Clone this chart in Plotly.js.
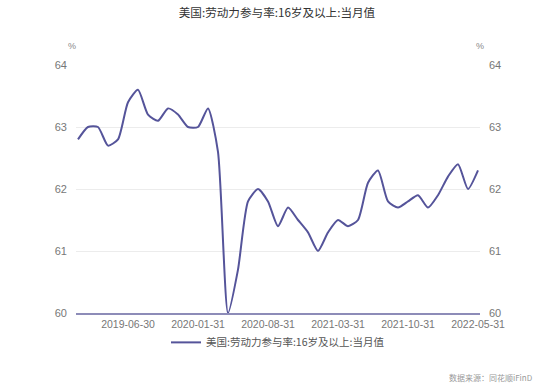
<!DOCTYPE html>
<html>
<head>
<meta charset="utf-8">
<script src="https://cdn.plot.ly/plotly-3.0.1.min.js"></script>
<style>html,body{margin:0;padding:0;background:#fff;}#chart{width:554px;height:387px;}</style>
</head>
<body>
<div id="chart"></div>
<script>
const dates = [
  "2019-01-31","2019-02-28","2019-03-31","2019-04-30","2019-05-31","2019-06-30",
  "2019-07-31","2019-08-31","2019-09-30","2019-10-31","2019-11-30","2019-12-31",
  "2020-01-31","2020-02-29","2020-03-31","2020-04-30","2020-05-31","2020-06-30",
  "2020-07-31","2020-08-31","2020-09-30","2020-10-31","2020-11-30","2020-12-31",
  "2021-01-31","2021-02-28","2021-03-31","2021-04-30","2021-05-31","2021-06-30",
  "2021-07-31","2021-08-31","2021-09-30","2021-10-31","2021-11-30","2021-12-31",
  "2022-01-31","2022-02-28","2022-03-31","2022-04-30","2022-05-31"
];
const participation = [
  62.8, 63.0, 63.0, 62.7, 62.8, 63.4,
  63.6, 63.2, 63.1, 63.3, 63.2, 63.0,
  63.0, 63.3, 62.6, 60.0, 60.7, 61.8,
  62.0, 61.8, 61.4, 61.7, 61.5, 61.3,
  61.0, 61.3, 61.5, 61.4, 61.5, 62.1,
  62.3, 61.8, 61.7, 61.8, 61.9, 61.7,
  61.9, 62.2, 62.4, 62.0, 62.3
];
const xTicks = ["2019-06-30","2020-01-31","2020-08-31","2021-03-31","2021-10-31","2022-05-31"];
const yTicks = [60, 61, 62, 63, 64];
const seriesName = "美国:劳动力参与率:16岁及以上:当月值";
const titleText = "美国:劳动力参与率:16岁及以上:当月值";
const sourceText = "数据来源：同花顺iFinD";

const FONT = '"Noto Sans CJK SC", "Liberation Sans", Arial, sans-serif';
const LATIN = '"Liberation Sans", Arial, sans-serif';
const lineColor = '#55549a';

const traces = [
  {
    x: dates, y: participation, type: 'scatter', mode: 'lines', name: seriesName,
    line: {color: lineColor, width: 2, shape: 'spline', smoothing: 0.6},
    hoverinfo: 'x+y'
  },
  {
    x: dates, y: participation, type: 'scatter', mode: 'lines', yaxis: 'y2',
    showlegend: false, hoverinfo: 'skip',
    line: {color: 'rgba(0,0,0,0)', width: 0}
  }
];

const yCommon = {
  range: [60, 64], tickvals: yTicks, showgrid: true, gridcolor: '#ececec', gridwidth: 1,
  zeroline: false, showline: false, ticks: '', ticklen: 0,
  tickfont: {family: LATIN, size: 11, color: '#777'}, fixedrange: true
};

const layout = {
  width: 554, height: 387,
  margin: {l: 76, r: 74, t: 65, b: 74},
  paper_bgcolor: '#fff', plot_bgcolor: '#fff',
  font: {family: FONT},
  title: {text: titleText, font: {family: FONT, size: 11.6, color: '#333'}, x: 0.5, xanchor: 'center', y: 0.978, yanchor: 'top'},
  xaxis: {
    type: 'category', range: [-0.2, 40.2], tickvals: xTicks, ticktext: xTicks,
    showgrid: false, zeroline: false, showline: true, linecolor: '#8d8cb8', linewidth: 2,
    ticks: '', tickangle: 0, tickfont: {family: LATIN, size: 10.5, color: '#777'}
  },
  yaxis: Object.assign({side: 'left', ticklabelstandoff: 8}, yCommon),
  yaxis2: Object.assign({side: 'right', overlaying: 'y', showgrid: false, ticklabelstandoff: 8}, yCommon),
  showlegend: true,
  legend: {
    orientation: 'h', x: 0.5, xanchor: 'center', y: -0.06, yanchor: 'top',
    font: {family: FONT, size: 10.5, color: '#555'}, itemwidth: 30
  },
  annotations: [
    {text: '%', xref: 'paper', yref: 'paper', x: -0.01, y: 1.05, xanchor: 'center', yanchor: 'bottom', showarrow: false, font: {family: LATIN, size: 9, color: '#888'}},
    {text: '%', xref: 'paper', yref: 'paper', x: 1.0, y: 1.05, xanchor: 'center', yanchor: 'bottom', showarrow: false, font: {family: LATIN, size: 9, color: '#888'}},
    {text: sourceText, xref: 'paper', yref: 'paper', x: 1.135, y: -0.262, xanchor: 'right', yanchor: 'middle', showarrow: false, font: {family: FONT, size: 8, color: '#999'}}
  ]
};

Plotly.newPlot('chart', traces, layout, {displayModeBar: false, staticPlot: true});
</script>
</body>
</html>
